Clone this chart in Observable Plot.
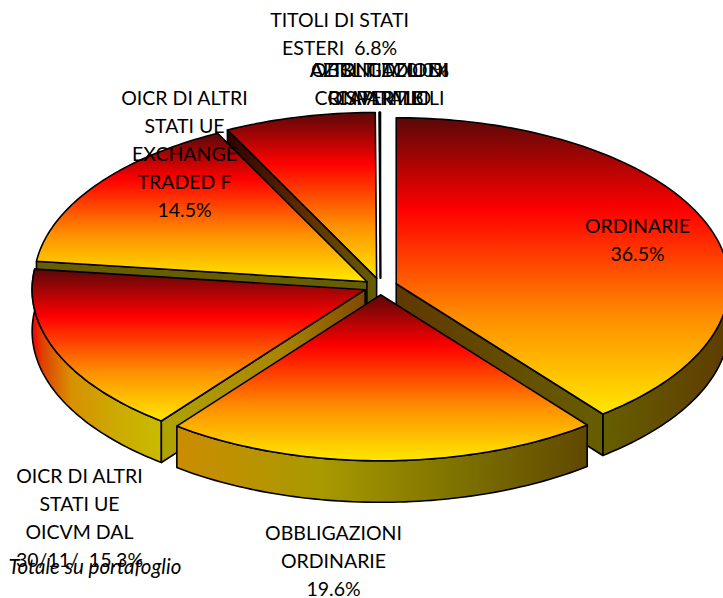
<!DOCTYPE html>
<html><head><meta charset="utf-8">
<style>html,body{margin:0;padding:0;background:#fff}</style>
<script src="https://cdn.jsdelivr.net/npm/d3@7"></script>
<script src="https://cdn.jsdelivr.net/npm/@observablehq/plot@0.6"></script>
</head><body><script>
// Data
const categories = ["ORDINARIE","OBBLIGAZIONI ORDINARIE","OICR OICVM","OICR EXCHANGE TRADED F","TITOLI DI STATI ESTERI","ALTRI TITOLI DI CAPITALE","OBBLIGAZIONI CONVERTIBILI","AZIONI DI RISPARMIO"];
const values = [36.5,19.6,15.3,14.5,6.8,0.02,0.02,0.02];
const labelTexts = ["ORDINARIE\n36.5%","OBBLIGAZIONI\nORDINARIE\n19.6%","OICR DI ALTRI\nSTATI UE\nOICVM DAL\n30/11/\u00a0 15.3%","OICR DI ALTRI\nSTATI UE\nEXCHANGE\nTRADED F\n14.5%","TITOLI DI STATI\nESTERI\u00a0 6.8%","ALTRI TITOLI DI\nCAPITALE","OBBLIGAZIONI\nCONVERTIBILI","AZIONI DI 0.0%\nRISPARMIO"];

// Pie geometry in unit-circle coordinates, derived from the values
const EXPLODE = 0.05, DEPTH = 0.25;
const total = d3.sum(values);
let acc = 0;
const slices = values.map((v,i)=>{const a0=acc/total*2*Math.PI;acc+=v;const a1=acc/total*2*Math.PI;const m=(a0+a1)/2;
  return {i,a0,a1,cx:EXPLODE*Math.sin(m),cy:EXPLODE*Math.cos(m)};});
const P=(s,a,r=1,z=0)=>({x:s.cx+r*Math.sin(a),y:s.cy+r*Math.cos(a)-z});
const arc=(s,a0,a1,z=0)=>{const n=Math.max(2,Math.ceil(Math.abs(a1-a0)/0.02));return d3.range(n+1).map(k=>P(s,a0+(a1-a0)*k/n,1,z));};
const top_=s=>[P(s,0,0),...arc(s,s.a0,s.a1)];
const wall=(s,a)=>[P(s,0,0),P(s,a),P(s,a,1,DEPTH),P(s,0,0,DEPTH)];
const rim=(s,a0,a1)=>[...arc(s,a0,a1),...arc(s,a1,a0,DEPTH)];

const face=(pts,fill)=>Plot.line(pts,{x:"x",y:"y",curve:"linear-closed",fill,stroke:"#000",strokeWidth:1.6,strokeLinejoin:"round"});
const [ord,obb,oicvm,etf,stati,t1,t2,t3]=slices;

function defs(){
  const d=d3.create("svg:defs");
  const lin=(id,stops,v=false)=>{const g=d.append("linearGradient").attr("id",id).attr("x1",0).attr("y1",0).attr("x2",v?0:1).attr("y2",v?1:0);
    stops.forEach(([o,c])=>g.append("stop").attr("offset",o).attr("stop-color",c));};
  lin("top",[[0,"#5a0808"],[.31,"#ff0000"],[.68,"#ff9000"],[1,"#ffe800"]],true);
  lin("rimOicvm",[[0,"#f00000"],[.08,"#e04000"],[.3,"#d89000"],[.65,"#ccaa00"],[1,"#c8bc00"]]);
  lin("rimObb",[[0,"#cc8c00"],[.35,"#a89a00"],[.7,"#7c7000"],[1,"#604800"]]);
  lin("rimOrd",[[0,"#665e00"],[1,"#5e3c00"]]);
  lin("wallOrd",[[0,"#603800"],[1,"#665e00"]]);
  lin("wallOicvm",[[0,"#b0a400"],[.6,"#a88400"],[1,"#804800"]]);
  lin("wallStati",[[0,"#300000"],[.5,"#5c2c00"],[1,"#665e00"]]);
  return d.node();
}

const labelSpots=[[637,238],[333,559],[79,516],[184,152],[339,32],[379,82],[379,82],[379,82]];
const xRange=[47,713], yRange=[120,452];
const toX=d3.scaleLinear(xRange,[-1,1]), toY=d3.scaleLinear(yRange,[1,-1]);
const labels=labelTexts.map((text,i)=>({text,x:toX(labelSpots[i][0]),y:toY(labelSpots[i][1])}));

const chart=Plot.plot({
  width:723,height:598,margin:0,
  x:{domain:[-1,1],range:xRange,axis:null},
  y:{domain:[1,-1],range:yRange,axis:null},
  style:{background:"transparent",overflow:"hidden"},
  marks:[
    defs,
    face(top_(t1),"url(#top)"),face(top_(t2),"url(#top)"),face(top_(t3),"url(#top)"),
    face(top_(stati),"url(#top)"),
    face(wall(stati,stati.a0),"url(#wallStati)"),
    face(wall(etf,etf.a0),"#665e00"),
    face(top_(etf),"url(#top)"),
    face(rim(oicvm,oicvm.a0,oicvm.a1),"url(#rimOicvm)"),
    face(wall(oicvm,oicvm.a0),"url(#wallOicvm)"),
    face(top_(oicvm),"url(#top)"),
    face(rim(ord,ord.a0+Math.PI/2,ord.a1),"url(#rimOrd)"),
    face(wall(ord,ord.a1),"url(#wallOrd)"),
    face(top_(ord),"url(#top)"),
    face(rim(obb,obb.a0,obb.a1),"url(#rimObb)"),
    face(top_(obb),"url(#top)"),
    Plot.text(labels,{x:"x",y:"y",text:"text",fontFamily:"Lato",fontSize:19.5,fill:"#000",lineHeight:1.436,lineAnchor:"middle"}),
    Plot.text(["Totale su portafoglio"],{frameAnchor:"top-left",dx:8,dy:559,fontFamily:"Lato",fontSize:20.5,fontStyle:"italic",fill:"#000",textAnchor:"start"})
  ]
});
document.body.appendChild(chart);
</script></body></html>
